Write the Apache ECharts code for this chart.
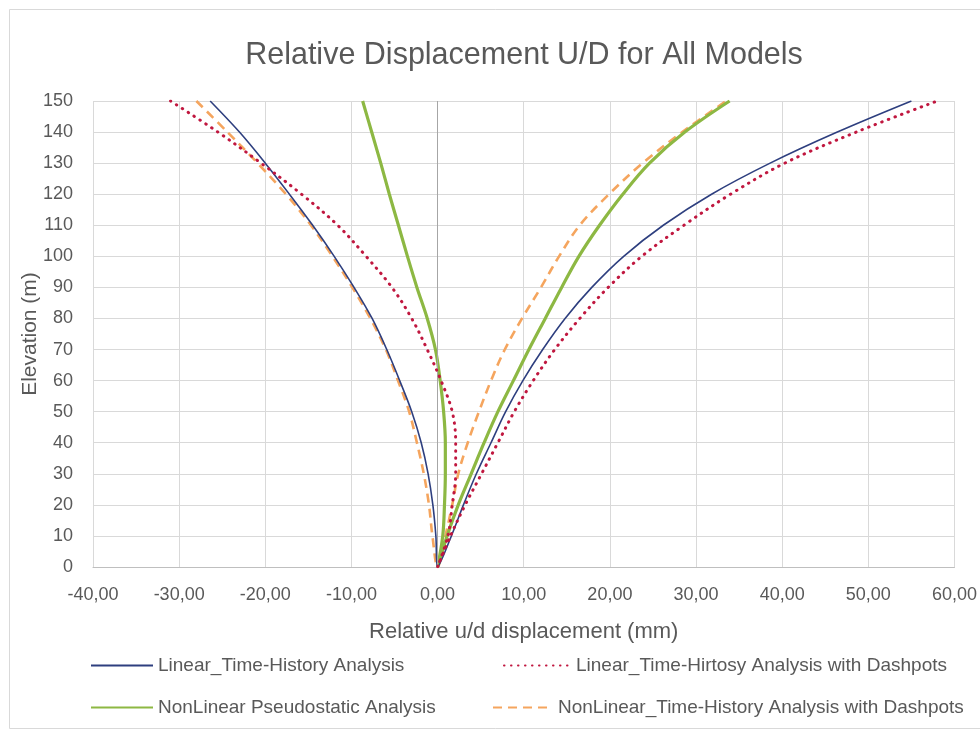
<!DOCTYPE html>
<html>
<head>
<meta charset="utf-8">
<script src="https://cdn.jsdelivr.net/npm/echarts@6/dist/echarts.min.js"></script>
<style>html,body{margin:0;padding:0;background:#fff}#c{width:980px;height:738px}</style>
</head>
<body>
<div id="c"></div>
<script>
// Elevations (m), bottom to top
const elevations = [0, 10, 20, 30, 40, 50, 60, 70, 80, 90, 100, 110, 120, 130, 140, 150];

// Linear_Time-History Analysis
const linLeft  = [0, -0.2, -0.55, -1.1, -1.9, -3.0, -4.4, -5.9, -7.6, -9.7, -12.0, -14.5, -17.2, -20.0, -23.0, -26.4];
const linRight = [0, 1.6, 3.0, 4.5, 6.2, 7.9, 9.9, 12.2, 14.8, 17.9, 21.6, 26.2, 31.8, 38.6, 46.4, 55.0];

// Linear_Time-Hirtosy Analysis with Dashpots
const linDpLeft  = [0, 1.2, 1.7, 2.1, 2.1, 1.7, 0.4, -1.2, -3.0, -5.3, -8.3, -11.6, -15.8, -20.5, -25.5, -31.0];
const linDpRight = [0, 1.5, 3.2, 5.1, 7.0, 8.9, 11.1, 13.6, 16.5, 19.8, 23.7, 28.6, 34.0, 40.3, 48.6, 58.0];

// NonLinear Pseudostatic Analysis
const nlpLeft  = [0, 0.6, 0.8, 0.9, 0.9, 0.7, 0.3, -0.25, -1.2, -2.4, -3.5, -4.55, -5.6, -6.6, -7.65, -8.7];
const nlpRight = [0, 1.1, 2.4, 3.9, 5.4, 7.0, 8.8, 10.6, 12.5, 14.4, 16.4, 18.8, 21.5, 24.6, 28.7, 33.9];

// NonLinear_Time-History Analysis with Dashpots
const nlthLeft  = [0, -0.6, -1.0, -1.6, -2.4, -3.3, -4.6, -6.0, -7.8, -9.9, -12.2, -14.7, -17.6, -20.9, -24.4, -28.0];
const nlthRight = [0, 0.9, 1.7, 2.4, 3.5, 4.8, 6.2, 7.8, 9.8, 12.0, 14.1, 16.5, 19.9, 23.8, 28.4, 33.5];

const seriesNames = [
  'Linear_Time-History Analysis',
  'Linear_Time-Hirtosy Analysis with Dashpots',
  'NonLinear Pseudostatic Analysis',
  'NonLinear_Time-History Analysis with Dashpots'
];

const title = 'Relative Displacement U/D for All Models';
const xName = 'Relative u/d displacement (mm)';
const yName = 'Elevation (m)';

function profile(left, right) {
  const pts = [];
  for (let i = elevations.length - 1; i >= 0; i--) pts.push([left[i], elevations[i]]);
  for (let i = 1; i < elevations.length; i++) pts.push([right[i], elevations[i]]);
  return pts;
}

const FONT = "'Liberation Sans', Arial, sans-serif";
const TXT = '#595959';
const chart = echarts.init(document.getElementById('c'), null, {renderer: 'canvas'});

function mkSeries(name, left, right, lineStyle, z) {
  return {
    name: name, type: 'line', data: profile(left, right),
    smooth: 0.35, showSymbol: false, symbol: 'none', z: z,
    lineStyle: lineStyle, itemStyle: {color: lineStyle.color},
    emphasis: {disabled: true}
  };
}

const legendBase = {
  itemHeight: 14, itemGap: 0,
  itemStyle: {opacity: 0},
  textStyle: {fontFamily: FONT, fontSize: 19, color: TXT}
};

chart.setOption({
  backgroundColor: '#fff',
  animation: false,
  graphic: [{
    type: 'rect', shape: {x: 9.5, y: 9.5, width: 980, height: 719},
    style: {fill: 'none', stroke: '#d9d9d9', lineWidth: 1}, silent: true, z: -10
  }],
  title: {
    text: title, left: 519, textAlign: 'center', top: 35,
    textStyle: {fontFamily: FONT, fontSize: 30.5, fontWeight: 'normal', color: TXT}
  },
  grid: {left: 93, right: 23, top: 101, bottom: 171},
  xAxis: {
    type: 'value', min: -40, max: 60, interval: 10,
    name: xName, nameLocation: 'middle', nameGap: 54,
    nameTextStyle: {fontFamily: FONT, fontSize: 22, color: TXT},
    axisLine: {show: true, onZero: false, lineStyle: {color: '#bfbfbf'}},
    axisTick: {show: false},
    axisLabel: {fontFamily: FONT, fontSize: 18, color: TXT, margin: 19,
      formatter: v => v.toFixed(2).replace('.', ',')},
    splitLine: {show: true, lineStyle: {color: '#d9d9d9'}}
  },
  yAxis: {
    type: 'value', min: 0, max: 150, interval: 10,
    name: yName, nameLocation: 'middle', nameGap: 52, nameRotate: 90,
    nameMoveOverlap: false,
    nameTextStyle: {fontFamily: FONT, fontSize: 21, color: TXT},
    axisLine: {show: false}, axisTick: {show: false},
    axisLabel: {fontFamily: FONT, fontSize: 18, color: TXT, margin: 20},
    splitLine: {show: true, lineStyle: {color: '#d9d9d9'}}
  },
  legend: [
    Object.assign({}, legendBase, {data: [seriesNames[0]], left: 85, top: 651, itemWidth: 62}),
    Object.assign({}, legendBase, {data: [seriesNames[1]], left: 498, top: 651, itemWidth: 67}),
    Object.assign({}, legendBase, {data: [seriesNames[2]], left: 85, top: 693, itemWidth: 62}),
    Object.assign({}, legendBase, {data: [seriesNames[3]], left: 487, top: 693, itemWidth: 60})
  ],
  series: [
    Object.assign(mkSeries(seriesNames[0], linLeft, linRight, {color: '#2E3F7F', width: 1.6}, 4), {
      markLine: {
        silent: true, symbol: 'none', label: {show: false},
        lineStyle: {color: '#a6a6a6', width: 1, type: 'solid'},
        data: [{xAxis: 0}]
      }
    }),
    mkSeries(seriesNames[1], linDpLeft, linDpRight, {color: '#C0173F', width: 3, type: [0.5, 6.5], cap: 'round'}, 5),
    mkSeries(seriesNames[2], nlpLeft, nlpRight, {color: '#8DB843', width: 3.2}, 3),
    mkSeries(seriesNames[3], nlthLeft, nlthRight, {color: '#F5A55E', width: 2.6, type: [9, 6]}, 2)
  ]
});
</script>
</body>
</html>
